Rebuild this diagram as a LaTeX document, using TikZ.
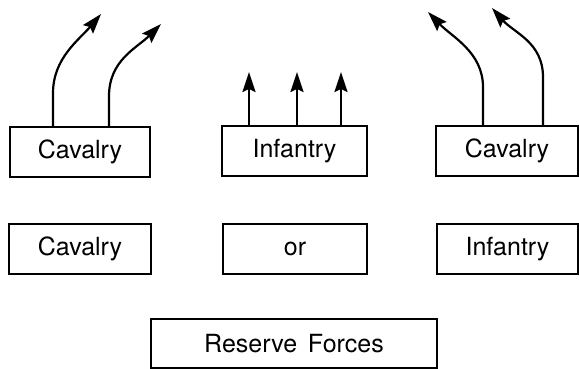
\documentclass[tikz,border=0pt]{standalone}
\usepackage{fontspec}
\setmainfont{TeX Gyre Heros}
\usetikzlibrary{arrows.meta}
\begin{document}
\begin{tikzpicture}[x=1pt,y=-1pt,
  unitbox/.style={draw, line width=1.7pt, inner sep=0pt, minimum height=50pt,
    font=\fontsize{25}{29}\selectfont},
  advance/.style={line width=2.2pt, -{Stealth[length=20pt,width=13pt,inset=3pt]}}]
\useasboundingbox (0,0) rectangle (579,369);
% top row
\node[unitbox, minimum width=140pt] (c1) at (80,152) {Cavalry};
\node[unitbox, minimum width=145pt] (i1) at (294.5,151) {Infantry};
\node[unitbox, minimum width=142pt] (c2) at (507,151) {Cavalry};
% middle row
\node[unitbox, minimum width=142pt] (c3) at (80,249) {Cavalry};
\node[unitbox, minimum width=144pt] (or) at (295,249) {or};
\node[unitbox, minimum width=141pt] (i2) at (507.5,249) {Infantry};
% reserve
\node[unitbox, minimum width=286pt, minimum height=49pt] (rf) at (294,343.5) {Reserve\hspace{0.15em} Forces};
% arrow tips
\coordinate (t1) at (101,14);
\coordinate (t2) at (161,24);
\coordinate (t3) at (428,12);
\coordinate (t4) at (492,8);
\coordinate (m1) at (249,72);
\coordinate (m2) at (297,72);
\coordinate (m3) at (341,72);
% curved arrows left
\draw[advance] ([xshift=-27pt]c1.north) -- ++(0,-33) .. controls ++(0,-35) and ++(-22,26) .. (t1);
\draw[advance] ([xshift=29pt]c1.north) -- ++(0,-30) .. controls ++(0,-36) and ++(-24,24) .. (t2);
% curved arrows right
\draw[advance] ([xshift=-24pt]c2.north) -- ++(0,-38) .. controls ++(0,-35) and ++(24,25) .. (t3);
\draw[advance] ([xshift=36pt]c2.north) -- ++(0,-48) .. controls ++(0,-35) and ++(22,25) .. (t4);
% straight arrows
\draw[advance] (i1.north -| m1) -- (m1);
\draw[advance] (i1.north -| m2) -- (m2);
\draw[advance] (i1.north -| m3) -- (m3);
\end{tikzpicture}
\end{document}
